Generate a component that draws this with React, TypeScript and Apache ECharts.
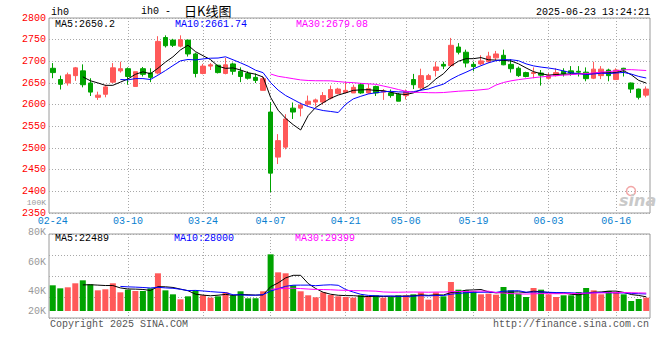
import React, { useEffect, useRef } from 'react';
import * as echarts from 'echarts';

// ---------- data ----------
const dates = [
  '02-24','02-25','02-26','02-27','02-28',
  '03-03','03-04','03-05','03-06','03-07','03-10','03-11','03-12','03-13','03-14',
  '03-17','03-18','03-19','03-20','03-21','03-24','03-25','03-26','03-27','03-28','03-31',
  '04-01','04-02','04-03','04-07','04-08','04-09','04-10','04-11','04-14','04-15','04-16','04-17','04-18',
  '04-21','04-22','04-23','04-24','04-25','04-28','04-29','04-30',
  '05-06','05-07','05-08','05-09','05-12','05-13','05-14','05-15','05-16',
  '05-19','05-20','05-21','05-22','05-23','05-26','05-27','05-28','05-29','05-30',
  '06-03','06-04','06-05','06-06','06-09','06-10','06-11','06-12','06-13',
  '06-16','06-17','06-18','06-19','06-20',
];

const opens = [
  2684, 2658, 2650, 2667, 2678, 2650, 2617, 2624, 2652, 2678,
  2683, 2642, 2683, 2673, 2673, 2755, 2749, 2735, 2749, 2717,
  2672, 2689, 2691, 2672, 2694, 2677, 2672, 2663, 2633, 2583,
  2479, 2502, 2592, 2592, 2601, 2606, 2606, 2615, 2626, 2628,
  2627, 2646, 2627, 2642, 2629, 2627, 2624, 2621, 2658, 2639,
  2658, 2679, 2693, 2690, 2733, 2721, 2693, 2694, 2699, 2708,
  2714, 2693, 2684, 2674, 2672, 2673, 2661, 2667, 2677, 2678,
  2677, 2675, 2661, 2667, 2680, 2658, 2684, 2650, 2636, 2622,
];
const closes = [
  2674, 2647, 2669, 2685, 2646, 2629, 2622, 2641, 2685, 2683,
  2665, 2676, 2670, 2663, 2746, 2736, 2737, 2750, 2717, 2672,
  2689, 2692, 2674, 2692, 2677, 2665, 2661, 2656, 2660, 2442,
  2517, 2567, 2583, 2599, 2608, 2611, 2621, 2635, 2636, 2633,
  2640, 2627, 2637, 2627, 2631, 2621, 2608, 2630, 2646, 2667,
  2667, 2687, 2689, 2737, 2721, 2696, 2688, 2701, 2712, 2717,
  2692, 2683, 2667, 2665, 2674, 2668, 2667, 2674, 2671, 2673,
  2675, 2660, 2682, 2682, 2667, 2680, 2680, 2636, 2617, 2636,
];
const lows = [
  2661, 2635, 2644, 2655, 2640, 2620, 2611, 2617, 2650, 2674,
  2646, 2642, 2665, 2652, 2670, 2732, 2733, 2732, 2711, 2663,
  2670, 2680, 2672, 2670, 2669, 2652, 2658, 2650, 2633, 2398,
  2463, 2497, 2567, 2573, 2597, 2596, 2600, 2612, 2624, 2627,
  2627, 2625, 2625, 2620, 2611, 2616, 2608, 2612, 2636, 2636,
  2658, 2665, 2682, 2688, 2716, 2686, 2677, 2691, 2696, 2702,
  2691, 2674, 2664, 2663, 2661, 2644, 2658, 2665, 2665, 2667,
  2665, 2654, 2659, 2659, 2654, 2658, 2665, 2627, 2612, 2617,
];
const highs = [
  2696, 2667, 2674, 2687, 2693, 2661, 2630, 2646, 2696, 2699,
  2686, 2676, 2687, 2684, 2758, 2760, 2752, 2760, 2750, 2720,
  2694, 2696, 2692, 2708, 2697, 2686, 2677, 2672, 2665, 2606,
  2532, 2578, 2605, 2605, 2621, 2614, 2629, 2644, 2639, 2652,
  2646, 2650, 2648, 2644, 2636, 2635, 2627, 2635, 2671, 2683,
  2671, 2699, 2699, 2754, 2742, 2727, 2699, 2714, 2722, 2724,
  2727, 2705, 2688, 2676, 2686, 2680, 2673, 2684, 2684, 2689,
  2689, 2686, 2699, 2689, 2683, 2684, 2685, 2651, 2637, 2642,
];
const volumes = [
  42400, 37400, 39100, 45700, 50600, 44000, 34100, 35800, 45700, 30800,
  35200, 33000, 33000, 37400, 62200, 34100, 27500, 19300, 24200, 34100,
  25900, 22000, 24200, 30800, 25900, 32500, 20900, 20900, 32500, 93500,
  63800, 62200, 42400, 32500, 25900, 22600, 30800, 26400, 24200, 23100,
  22000, 25900, 24200, 25900, 22000, 23100, 25900, 25900, 27500, 30800,
  18700, 30800, 24200, 47900, 35200, 34100, 32500, 27500, 28600, 26900,
  39600, 34100, 28600, 23100, 38000, 35200, 27500, 23100, 25900, 25900,
  31400, 38000, 34100, 27500, 33000, 31400, 27500, 16500, 19800, 22000,
];
const labelIndices = [0, 10, 20, 29, 39, 47, 56, 66, 75];
const priceTicks = { min: 2350, max: 2800, step: 50 };
const volumeTicks = { min: 20000, max: 100000, step: 20000 };
const headerTexts = { symbol: 'ih0', title1: 'ih0 -', title2: '日K线图', time: '2025-06-23 13:24:21' };
const priceMA = ['MA5:2650.2', 'MA10:2661.74', 'MA30:2679.08'];
const volumeMA = ['MA5:22489', 'MA10:28000', 'MA30:29399'];
const footer = ['Copyright 2025 SINA.COM', 'http://finance.sina.com.cn'];

// ---------- style ----------
const RED = '#ff5959';
const GREEN = '#00a300';
const GRIDC = '#a8a8a8';
const BORDER = '#9a9a9a';
const MONO = '"Liberation Mono", "DejaVu Sans Mono", monospace';
const MA_COLORS = ['#000000', '#0000ff', '#ff00ff'];

function movingAverage(values: number[], n: number) {
  return values.map((_, i) => {
    if (i < n - 1) return '-';
    let s = 0;
    for (let k = i - n + 1; k <= i; k++) s += values[k];
    return +(s / n).toFixed(2);
  });
}

const isLabel = (idx: number) => labelIndices.includes(idx);
const dotted = { color: GRIDC, type: [1, 2] as any, width: 1 };

function buildOption() {
  const candles = dates.map((_, i) => [opens[i], closes[i], lows[i], highs[i]]);
  const volBars = volumes.map((v, i) => ({
    value: v,
    itemStyle: { color: closes[i] >= opens[i] ? RED : GREEN },
  }));
  const L = 49, W = 601;
  const maLine = (data: any[], color: string, xi: number, yi: number) => ({
    type: 'line', data, xAxisIndex: xi, yAxisIndex: yi, symbol: 'none', showSymbol: false,
    lineStyle: { width: 1, color }, itemStyle: { color }, silent: true, z: 5,
  });
  const txt = (text: string, x: number, y: number, fill: string, extra: any = {}) => ({
    type: 'text', x, y, silent: true, z: 100,
    style: { text, fill, fontSize: 10, fontFamily: MONO, verticalAlign: 'middle', align: 'left', ...extra },
  });

  return {
    animation: false,
    backgroundColor: '#ffffff',
    grid: [
      { left: L, width: W, top: 18, height: 195, show: true, borderColor: BORDER, borderWidth: 1, backgroundColor: 'transparent' },
      { left: L, width: W, top: 234, height: 77 },
      { left: L, width: W, top: 234, height: 84, show: true, borderColor: BORDER, borderWidth: 1, backgroundColor: 'transparent' },
      { left: L, width: W, top: 202.5, height: 119.3 },
    ],
    xAxis: [
      {
        type: 'category', gridIndex: 0, data: dates, boundaryGap: true,
        axisLine: { show: false }, axisTick: { show: false },
        axisLabel: { interval: (i: number) => isLabel(i), color: '#0a7fd0', fontSize: 10, fontFamily: MONO, margin: 3 },
        splitLine: { show: true, interval: (i: number) => isLabel(i) && i > 0, alignWithLabel: true, lineStyle: dotted },
      },
      {
        type: 'category', gridIndex: 1, data: dates, boundaryGap: true,
        axisLine: { show: false }, axisTick: { show: false }, axisLabel: { show: false }, splitLine: { show: false },
      },
      {
        type: 'category', gridIndex: 2, data: dates, boundaryGap: true,
        axisLine: { show: false }, axisTick: { show: false }, axisLabel: { show: false },
        splitLine: { show: true, interval: (i: number) => isLabel(i) && i > 0, alignWithLabel: true, lineStyle: dotted },
      },
      { type: 'value', gridIndex: 3, show: false, min: 0, max: 1 },
    ],
    yAxis: [
      {
        type: 'value', gridIndex: 0, min: priceTicks.min, max: priceTicks.max, interval: priceTicks.step,
        axisLine: { show: false }, axisTick: { show: false },
        axisLabel: { color: '#ff0000', fontSize: 10, fontFamily: MONO, margin: 3, formatter: (v: number) => String(v) },
        splitLine: { show: true, lineStyle: dotted },
      },
      { type: 'value', gridIndex: 1, min: 0, max: 127050, show: false, splitLine: { show: false } },
      {
        type: 'value', gridIndex: 2, min: 0, max: 4, interval: 1,
        axisLine: { show: false }, axisTick: { show: false }, axisLabel: { show: false },
        splitLine: { show: true, lineStyle: dotted },
      },
      {
        type: 'value', gridIndex: 3, min: volumeTicks.min, max: volumeTicks.max, interval: volumeTicks.step,
        axisLine: { show: false }, axisTick: { show: false }, splitLine: { show: false },
        axisLabel: {
          color: '#999999', fontSize: 10, fontFamily: MONO, margin: 3,
          formatter: (v: number) => {
            const t = v / 1000 + 'K';
            if (v === volumeTicks.min) return '{s|' + t + '}';
            if (v === volumeTicks.max) return '{t|' + t + '}';
            return '{n|' + t + '}';
          },
          rich: {
            s: { color: '#999999', fontSize: 10, fontFamily: MONO, padding: [0, 0, 20, 0] },
            t: { color: '#999999', fontSize: 8, fontFamily: MONO },
            n: { color: '#999999', fontSize: 10, fontFamily: MONO },
          },
        },
      },
    ],
    series: [
      {
        type: 'candlestick', xAxisIndex: 0, yAxisIndex: 0, data: candles, barWidth: 5, silent: true,
        itemStyle: { color: RED, color0: GREEN, borderColor: RED, borderColor0: GREEN, borderWidth: 1 },
      },
      maLine(movingAverage(closes, 5), MA_COLORS[0], 0, 0),
      maLine(movingAverage(closes, 10), MA_COLORS[1], 0, 0),
      maLine(movingAverage(closes, 30), MA_COLORS[2], 0, 0),
      { type: 'bar', xAxisIndex: 1, yAxisIndex: 1, data: volBars, barWidth: 6, silent: true },
      maLine(movingAverage(volumes, 5), MA_COLORS[0], 1, 1),
      maLine(movingAverage(volumes, 10), MA_COLORS[1], 1, 1),
      maLine(movingAverage(volumes, 30), MA_COLORS[2], 1, 1),
    ],
    graphic: [
      txt(headerTexts.symbol, 51, 12, '#000'),
      txt(headerTexts.title1, 141, 11, '#000'),
      { type: 'text', x: 184, y: 10, silent: true, z: 100,
        style: { text: headerTexts.title2, fill: '#000', fontSize: 13, fontFamily: '"Noto Sans CJK SC", sans-serif', verticalAlign: 'middle' } },
      txt(headerTexts.time, 650, 12, '#000', { align: 'right' }),
      txt(priceMA[0], 55, 24, MA_COLORS[0]),
      txt(priceMA[1], 175, 24, MA_COLORS[1]),
      txt(priceMA[2], 296, 24, MA_COLORS[2]),
      txt(volumeMA[0], 55, 238.5, MA_COLORS[0]),
      txt(volumeMA[1], 174, 238.5, MA_COLORS[1]),
      txt(volumeMA[2], 295, 238.5, MA_COLORS[2]),
      txt(footer[0], 50, 324, '#555'),
      txt(footer[1], 649, 324, '#555', { align: 'right' }),
      { type: 'circle', silent: true, z: 1, shape: { cx: 631, cy: 191, r: 4.5 },
        style: { fill: 'none', stroke: '#f2a6a6', lineWidth: 1.5 } },
      { type: 'text', x: 619, y: 200, silent: true, z: 1,
        style: { text: 'sina', fill: '#c9c9c9', fontSize: 16, fontWeight: 'bold', fontStyle: 'italic', fontFamily: 'DejaVu Sans, sans-serif', verticalAlign: 'middle' } },
    ],
  };
}

export default function App() {
  const ref = useRef<HTMLDivElement>(null);
  useEffect(() => {
    if (!ref.current) return;
    const chart = echarts.init(ref.current, null, { renderer: 'svg' });
    chart.setOption(buildOption() as any);
    return () => chart.dispose();
  }, []);
  return (
    <div
      ref={ref}
      style={{ position: 'fixed', left: 0, top: 0, width: 660, height: 360, background: '#fff' }}
    />
  );
}
